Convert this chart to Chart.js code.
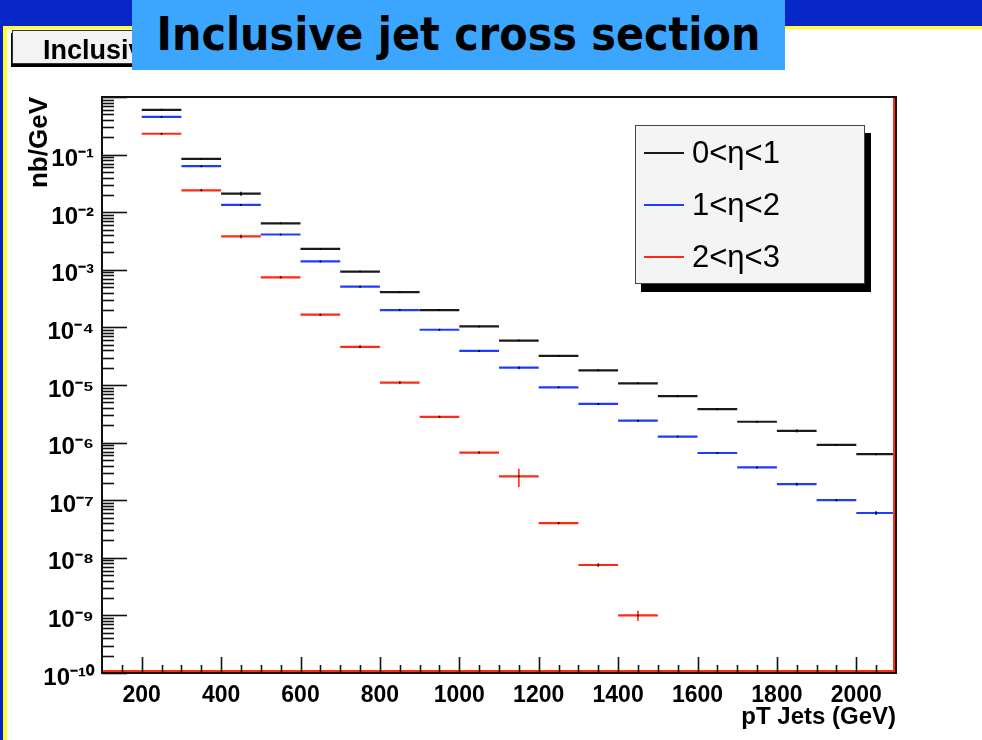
<!DOCTYPE html>
<html>
<head>
<meta charset="utf-8">
<title>Inclusive jet cross section</title>
<script src="https://cdn.jsdelivr.net/npm/chart.js@4.4.1/dist/chart.umd.min.js"></script>
<style>
  body { margin: 0; width: 982px; height: 740px; overflow: hidden; background: #fff; position: relative;
         font-family: 'Liberation Sans', Arial, sans-serif; }
  .abs { position: absolute; }
  #topbar { left: 0; top: 0; width: 982px; height: 26px; background: #0626c8; }
  #yellowTop { left: 0; top: 26px; width: 982px; height: 3px; background: #ffff33; }
  #leftBlue { left: 0; top: 0; width: 3px; height: 740px; background: #0626c8; }
  #leftYellow { left: 3px; top: 26px; width: 4px; height: 714px; background: #ffff33; }
  #rootTitle { left: 12px; top: 30px; width: 200px; height: 32px; background: #f3f3f3; border: 1px solid #333;
               box-shadow: -1px 3px 0 #000; font-weight: bold; font-size: 27px; line-height: 38px;
               padding-left: 30px; white-space: nowrap; overflow: hidden; }
  #title { left: 132px; top: 0; width: 653px; height: 70px; background: #3ca6ff; color: #000;
           font-family: 'DejaVu Sans Condensed', 'DejaVu Sans', sans-serif; font-weight: bold;
           font-size: 46px; line-height: 68px; text-align: center; white-space: nowrap; }
  #wrap { left: 0; top: 0; width: 982px; height: 740px; }
  #legend { left: 635px; top: 125px; width: 228px; height: 157px; background: #f4f4f4; border: 1px solid #444;
            box-shadow: 6px 8px 0 #000; }
  .row { position: absolute; left: 0; height: 40px; }
  .swatch { position: absolute; left: 8px; top: 19px; width: 40px; height: 2px; }
  .lab { position: absolute; left: 56px; top: 0; font-size: 31px; line-height: 40px; color: #000; white-space: nowrap; }
</style>
</head>
<body>
<div id="wrap" class="abs"><canvas id="myChart" width="982" height="740"></canvas></div>
<div id="topbar" class="abs"></div>
<div id="yellowTop" class="abs"></div>
<div id="leftBlue" class="abs"></div>
<div id="leftYellow" class="abs"></div>
<div id="rootTitle" class="abs">Inclusive jet cross section</div>
<div id="title" class="abs">Inclusive jet cross section</div>
<div id="legend" class="abs"></div>
<script>
// bins: 100 GeV wide, edges from 200 to 2100
const binEdges = [200, 300, 400, 500, 600, 700, 800, 900, 1000, 1100, 1200, 1300, 1400, 1500, 1600, 1700, 1800, 1900, 2000, 2100]

const seriesLabels = ['0<\u03b7<1', '1<\u03b7<2', '2<\u03b7<3']
const seriesColors = ['#1a1a1a', '#1f3dff', '#ff2a14']

// nb/GeV
const eta01 = [0.60, 0.084, 0.021, 0.0064, 0.0023, 9.3e-4, 4.1e-4, 2.0e-4, 1.04e-4, 5.9e-5,
               3.2e-5, 1.8e-5, 1.07e-5, 6.4e-6, 3.8e-6, 2.3e-6, 1.6e-6, 9.1e-7, 6.3e-7]
const eta12 = [0.45, 0.063, 0.0134, 0.0041, 0.0014, 5.1e-4, 2.0e-4, 9.1e-5, 3.9e-5, 2.0e-5,
               9.1e-6, 4.7e-6, 2.4e-6, 1.27e-6, 6.6e-7, 3.7e-7, 1.9e-7, 1.0e-7, 6.0e-8]
const eta23 = [0.23, 0.024, 0.0038, 7.4e-4, 1.66e-4, 4.6e-5, 1.1e-5, 2.8e-6, 6.7e-7, 2.6e-7,
               4.0e-8, 7.5e-9, 1.0e-9]

// relative stat. errors (vertical error bars)
const err01 = [0.02, 0.02, 0.08, 0.02, 0.02, 0.02, 0.02, 0.02, 0.02, 0.02,
               0.02, 0.02, 0.02, 0.02, 0.02, 0.03, 0.06, 0.03, 0.03]
const err12 = [0.02, 0.02, 0.02, 0.02, 0.02, 0.02, 0.02, 0.02, 0.02, 0.06,
               0.02, 0.02, 0.02, 0.02, 0.02, 0.03, 0.06, 0.04, 0.08]
const err23 = [0.02, 0.02, 0.08, 0.05, 0.04, 0.06, 0.06, 0.04, 0.05, 0.35,
               0.05, 0.08, 0.20]

// axis ticks
const yDecades = [-10, -9, -8, -7, -6, -5, -4, -3, -2, -1, 0]
const yMinorMults = [2, 3, 4, 5, 6, 7, 8, 9]
const xMajorTicks = [200, 400, 600, 800, 1000, 1200, 1400, 1600, 1800, 2000]
const xMinorStep = 50

const sup = {'-': '\u207b', '0': '\u2070', '1': '\u00b9', '2': '\u00b2', '3': '\u00b3', '4': '\u2074',
             '5': '\u2075', '6': '\u2076', '7': '\u2077', '8': '\u2078', '9': '\u2079'}

function toPoints(values, errs) {
    return values.map((v, i) => ({
        x: (binEdges[i] + binEdges[i + 1]) / 2,
        y: v,
        lo: binEdges[i],
        hi: binEdges[i + 1],
        err: v * errs[i]
    }))
}

const allValues = [eta01, eta12, eta23]
const allErrs = [err01, err12, err23]

const data = {
    datasets: allValues.map((vals, k) => ({
        label: seriesLabels[k],
        data: toPoints(vals, allErrs[k]),
        borderColor: seriesColors[k],
        backgroundColor: '#000',
        pointRadius: 1,
        pointBorderWidth: 0,
        pointBackgroundColor: '#000',
        showLine: false,
        order: 3 - k
    }))
}

// ROOT style histogram bars, ticks and frame
const rootStyle = {
    id: 'rootStyle',
    beforeDatasetsDraw(chart) {
        const {ctx, scales: {x, y}} = chart
        ctx.save()
        chart.data.datasets.forEach(ds => {
            ctx.strokeStyle = ds.borderColor
            ds.data.forEach(p => {
                const yp = y.getPixelForValue(p.y)
                ctx.lineWidth = 2.2
                ctx.beginPath()
                ctx.moveTo(x.getPixelForValue(p.lo), yp)
                ctx.lineTo(x.getPixelForValue(p.hi), yp)
                ctx.stroke()
                const xc = x.getPixelForValue(p.x)
                ctx.lineWidth = 1.6
                ctx.beginPath()
                ctx.moveTo(xc, y.getPixelForValue(p.y + p.err))
                ctx.lineTo(xc, y.getPixelForValue(p.y - p.err))
                ctx.stroke()
            })
        })
        ctx.restore()
    },
    afterDraw(chart) {
        const {ctx, chartArea: a, scales: {x, y}} = chart
        ctx.save()
        // red outline along bottom and right
        ctx.strokeStyle = '#ff2a14'
        ctx.lineWidth = 2
        ctx.beginPath()
        ctx.moveTo(a.left, a.bottom - 2)
        ctx.lineTo(a.right - 2, a.bottom - 2)
        ctx.lineTo(a.right - 2, a.top)
        ctx.stroke()
        // frame
        ctx.strokeStyle = '#111'
        ctx.lineWidth = 2
        ctx.strokeRect(a.left, a.top, a.right - a.left, a.bottom - a.top)
        // y ticks
        ctx.lineWidth = 1.6
        y.ticks.forEach(t => {
            const e = Math.log10(t.value)
            const len = Math.abs(e - Math.round(e)) < 1e-6 ? 25 : 12
            const yp = Math.round(y.getPixelForValue(t.value)) + 0.5
            ctx.beginPath()
            ctx.moveTo(a.left, yp)
            ctx.lineTo(a.left + len, yp)
            ctx.stroke()
        })
        // x ticks
        x.ticks.forEach(t => {
            if (t.value <= x.min || t.value >= x.max) return
            const len = xMajorTicks.includes(t.value) ? 16 : 8
            const xp = Math.round(x.getPixelForValue(t.value)) + 0.5
            ctx.beginPath()
            ctx.moveTo(xp, a.bottom)
            ctx.lineTo(xp, a.bottom - len)
            ctx.stroke()
        })
        ctx.restore()
    }
}

const config = {
    type: 'scatter',
    data,
    plugins: [rootStyle],
    options: {
        responsive: false,
        devicePixelRatio: 1,
        animation: false,
        layout: { padding: { top: 97, right: 86, left: 0, bottom: 0 } },
        plugins: {
            legend: { display: false },
            tooltip: { enabled: false }
        },
        scales: {
            x: {
                type: 'linear',
                min: 100,
                max: 2100,
                grid: { display: false, drawTicks: false },
                border: { display: false },
                afterFit: (s) => { s.height = 67 },
                ticks: {
                    stepSize: xMinorStep,
                    autoSkip: false,
                    maxRotation: 0,
                    padding: 9,
                    color: '#000',
                    font: { family: "'Liberation Sans', Arial, sans-serif", size: 23, weight: 'bold' },
                    callback: (v) => xMajorTicks.includes(v) ? String(v) : ''
                },
                title: {
                    display: true,
                    text: 'pT Jets (GeV)',
                    align: 'end',
                    color: '#000',
                    padding: { top: 0, bottom: 8 },
                    font: { family: "'Liberation Sans', Arial, sans-serif", size: 24, weight: 'bold' }
                }
            },
            y: {
                type: 'logarithmic',
                min: 1e-10,
                max: 1,
                grid: { display: false, drawTicks: false },
                border: { display: false },
                afterFit: (s) => { s.width = 102 },
                afterBuildTicks: (s) => {
                    const vals = []
                    yDecades.forEach(d => {
                        vals.push(Math.pow(10, d))
                        if (d < 0) yMinorMults.forEach(m => vals.push(m * Math.pow(10, d)))
                    })
                    s.ticks = vals.map(v => ({ value: v }))
                },
                ticks: {
                    autoSkip: false,
                    padding: 8,
                    labelOffset: 5,
                    color: '#000',
                    font: { family: "'Liberation Sans', Arial, sans-serif", size: 24, weight: 'bold' },
                    callback: (v) => {
                        const e = Math.round(Math.log10(v))
                        if (Math.abs(v / Math.pow(10, e) - 1) > 1e-6 || e >= 0) return ''
                        return '10' + String(e).split('').map(c => sup[c]).join('')
                    }
                },
                title: {
                    display: true,
                    text: 'nb/GeV',
                    align: 'end',
                    color: '#000',
                    padding: { top: 24, bottom: 0 },
                    font: { family: "'Liberation Sans', Arial, sans-serif", size: 26, weight: 'bold' }
                }
            }
        }
    }
}

const myChart = new Chart(document.getElementById('myChart'), config)

// legend box, ROOT TLegend look
const legend = document.getElementById('legend')
seriesLabels.forEach((lab, k) => {
    const row = document.createElement('div')
    row.className = 'row'
    row.style.top = (7 + k * 52) + 'px'
    row.innerHTML = '<div class="swatch" style="background:' + seriesColors[k] + '"></div><div class="lab">' + lab + '</div>'
    legend.appendChild(row)
})
</script>
</body>
</html>
